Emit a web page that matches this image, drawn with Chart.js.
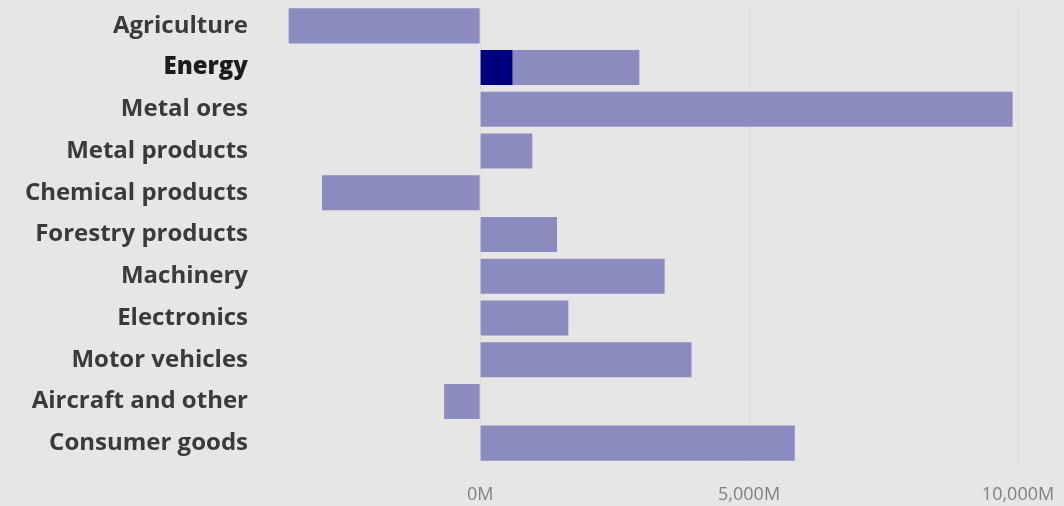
<!DOCTYPE html>
<html>
<head>
<meta charset="utf-8">
<script src="https://cdn.jsdelivr.net/npm/chart.js@4"></script>
<style>
  html, body { margin: 0; padding: 0; background: #e6e6e6; }
  #wrap { width: 1064px; height: 506px; position: relative; }
</style>
</head>
<body>
<div id="wrap"><canvas id="tradeChart"></canvas></div>
<script>
// categories and values (millions)
const categories = ['Agriculture', 'Energy', 'Metal ores', 'Metal products', 'Chemical products',
  'Forestry products', 'Machinery', 'Electronics', 'Motor vehicles', 'Aircraft and other', 'Consumer goods'];
const balanceValues = [-3560, 2960, 9900, 970, -2940, 1430, 3430, 1640, 3930, -670, 5850];
const highlightValues = [null, 600, null, null, null, null, null, null, null, null, null];
const tickValues = [0, 5000, 10000];
const selectedIndex = 1;

const ctx = document.getElementById('tradeChart').getContext('2d');
const chart = new Chart(ctx, {
  type: 'bar',
  data: {
    labels: categories,
    datasets: [
      {
        label: 'Selected',
        data: highlightValues,
        backgroundColor: '#000080',
        grouped: false,
        categoryPercentage: 1,
        barPercentage: 0.84,
        order: 0
      },
      {
        label: 'Trade balance',
        data: balanceValues,
        backgroundColor: '#8b8bbf',
        grouped: false,
        categoryPercentage: 1,
        barPercentage: 0.84,
        order: 1
      }
    ]
  },
  options: {
    indexAxis: 'y',
    responsive: true,
    maintainAspectRatio: false,
    animation: false,
    layout: { padding: { top: 5, right: 46, left: 0, bottom: 0 } },
    plugins: { legend: { display: false }, tooltip: { enabled: false } },
    scales: {
      x: {
        min: -4000,
        max: 10000,
        afterBuildTicks: axis => { axis.ticks = tickValues.map(v => ({ value: v })); },
        afterFit: axis => { axis.height = 42; axis.paddingLeft = 0; axis.paddingRight = 0; },
        grid: { color: 'rgba(0,0,0,0.035)', drawTicks: false },
        border: { display: false },
        ticks: {
          color: '#808080',
          padding: 20,
          font: { family: 'Open Sans, Noto Sans, sans-serif', size: 18 },
          callback: v => v.toLocaleString('en-US') + 'M'
        }
      },
      y: {
        afterFit: axis => { axis.width = 265; axis.paddingTop = 0; axis.paddingBottom = 0; },
        grid: { display: false },
        border: { display: false },
        ticks: {
          color: ctx => ctx.index === selectedIndex ? '#1c1c1c' : '#3a3a3a',
          padding: 9,
          font: ctx => ({
            family: 'Open Sans, Noto Sans, sans-serif',
            size: 24,
            weight: ctx.index === selectedIndex ? '800' : 'bold'
          })
        }
      }
    }
  }
});
</script>
</body>
</html>
